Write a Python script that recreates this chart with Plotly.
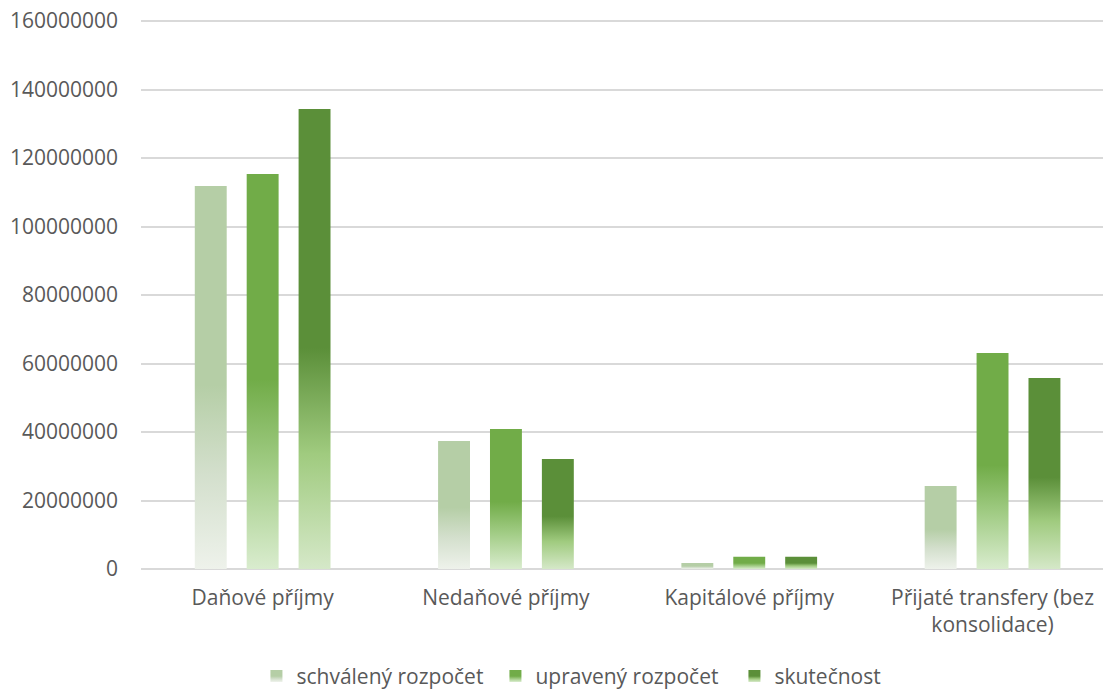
import plotly.graph_objects as go

categories = ["Daňové příjmy", "Nedaňové příjmy", "Kapitálové příjmy", "Přijaté transfery (bez<br>konsolidace)"]
series_names = ["schválený rozpočet", "upravený rozpočet", "skutečnost"]
schvaleny = [111800000, 37400000, 1750000, 24200000]
upraveny = [115300000, 40900000, 3600000, 63100000]
skutecnost = [134300000, 32100000, 3600000, 55800000]
y_ticks = [0, 20000000, 40000000, 60000000, 80000000, 100000000, 120000000, 140000000, 160000000]

colors = ["#b5cea6", "#71ac48", "#5b8f39"]
font_family = "Open Sans, Lato, Liberation Sans, sans-serif"
text_color = "#595959"

fig = go.Figure()
for name, vals, col in zip(series_names, [schvaleny, upraveny, skutecnost], colors):
    fig.add_trace(go.Bar(x=categories, y=vals, name=name, marker=dict(color=col, line=dict(width=0))))

fig.update_layout(
    width=1103, height=692,
    paper_bgcolor="white", plot_bgcolor="white",
    margin=dict(l=141, r=0, t=20, b=123, autoexpand=False),
    barmode="group", bargap=0.36, bargroupgap=0.385,
    font=dict(family=font_family, color=text_color, size=21),
    showlegend=True,
    legend=dict(orientation="h", x=0.12, xanchor="left", y=-0.158, yanchor="top",
                font=dict(size=21, color=text_color), itemwidth=30, tracegroupgap=0,
                entrywidth=194, traceorder="normal", bgcolor="rgba(0,0,0,0)"),
    xaxis=dict(range=[-0.5, 3.454], showgrid=False, zeroline=False, showline=False,
               tickfont=dict(size=21, color=text_color), ticks="", ticklabelstandoff=14),
    yaxis=dict(range=[0, 160300000], tickvals=y_ticks, ticktext=[str(v) for v in y_ticks],
               showgrid=True, gridcolor="#d9d9d9", gridwidth=1.5, zeroline=True,
               zerolinecolor="#d9d9d9", zerolinewidth=1.5, showline=False, ticks="",
               tickfont=dict(size=21, color=text_color), ticklabelstandoff=22),
)

post = """
document.body.style.margin = '0';
document.body.style.padding = '0';
var gd = document.getElementById('{plot_id}');
var ns = 'http://www.w3.org/2000/svg';
var stopsAll = [
  [[0, '#eef2eb'], [0.25, '#d3dfcc'], [0.48, '#b5cea6'], [1, '#b5cea6']],
  [[0, '#d9ecce'], [0.25, '#a3cd87'], [0.48, '#71ac48'], [1, '#71ac48']],
  [[0, '#d5e8c8'], [0.25, '#a0cb7f'], [0.48, '#5b8f39'], [1, '#5b8f39']]
];
var svg = gd.querySelector('svg.main-svg');
var defs = document.createElementNS(ns, 'defs');
svg.insertBefore(defs, svg.firstChild);
stopsAll.forEach(function(stops, i) {
  var g = document.createElementNS(ns, 'linearGradient');
  g.setAttribute('id', 'bargrad' + i);
  g.setAttribute('x1', '0'); g.setAttribute('y1', '1');
  g.setAttribute('x2', '0'); g.setAttribute('y2', '0');
  stops.forEach(function(s) {
    var st = document.createElementNS(ns, 'stop');
    st.setAttribute('offset', s[0]);
    st.setAttribute('stop-color', s[1]);
    g.appendChild(st);
  });
  defs.appendChild(g);
});
gd.querySelectorAll('.barlayer .trace.bars').forEach(function(tr, i) {
  tr.querySelectorAll('path').forEach(function(p) { p.style.fill = 'url(#bargrad' + i + ')'; });
});
gd.querySelectorAll('.legend .traces').forEach(function(t, i) {
  t.querySelectorAll('.legendpoints path').forEach(function(p) { p.style.fill = 'url(#bargrad' + i + ')'; });
});
"""

fig.write_html("out.html", post_script=post, config={"displayModeBar": False})
